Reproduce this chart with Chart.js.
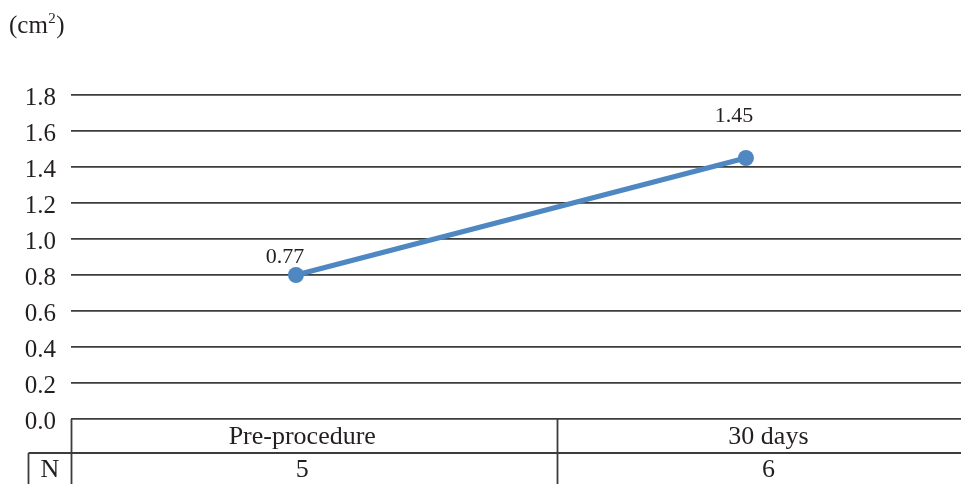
<!DOCTYPE html>
<html>
<head>
<meta charset="utf-8">
<script src="https://cdn.jsdelivr.net/npm/chart.js@4/dist/chart.umd.min.js"></script>
<style>
  html, body { margin: 0; padding: 0; background: #fff; overflow: hidden; }
  canvas { display: block; }
</style>
</head>
<body>
<canvas id="myChart" width="961" height="484"></canvas>
<script>
// data
const categories = ['Pre-procedure', '30 days'];
const plotted = [0.8, 1.45];          // where the markers sit
const valueLabels = ['0.77', '1.45']; // printed next to the markers
const nRow = ['5', '6'];
const yTicks = [0, 0.2, 0.4, 0.6, 0.8, 1.0, 1.2, 1.4, 1.6, 1.8];
const unitParts = ['(cm', '2', ')'];

const SERIF = '"Liberation Serif", "Times New Roman", serif';
const INK = '#231f20';
const BLUE = '#4f87c2';
const GRID = '#3c3c3c';

// value labels, unit text and the data table under the axis
const tablePlugin = {
    id: 'tablePlugin',
    afterDraw(chart) {
        const ctx = chart.ctx;
        const area = chart.chartArea;
        const xs = chart.scales.x;
        const meta = chart.getDatasetMeta(0);

        ctx.save();
        ctx.fillStyle = INK;

        // unit, with a raised 2
        ctx.textAlign = 'left';
        ctx.textBaseline = 'alphabetic';
        let ux = 9;
        ctx.font = '25px ' + SERIF;
        ctx.fillText(unitParts[0], ux, 33);
        ux += ctx.measureText(unitParts[0]).width;
        ctx.font = '15px ' + SERIF;
        ctx.fillText(unitParts[1], ux + 0.5, 23);
        ux += ctx.measureText(unitParts[1]).width + 1;
        ctx.font = '25px ' + SERIF;
        ctx.fillText(unitParts[2], ux, 33);

        // value labels
        const offs = [[-11, -12], [-12, -36]];
        ctx.font = '22px ' + SERIF;
        ctx.textAlign = 'center';
        meta.data.forEach((pt, i) => {
            ctx.fillText(valueLabels[i], pt.x + offs[i][0], pt.y + offs[i][1]);
        });

        // table
        const top = area.bottom;
        const mid = top + 34;
        const bot = chart.height + 2;
        const divX = Math.round(xs.getPixelForValue(0.58)) + 0.5;
        const leftX = area.left + 0.5;
        const nLeft = 28.5;

        ctx.strokeStyle = GRID;
        ctx.lineWidth = 1.8;
        ctx.beginPath();
        ctx.moveTo(leftX, top); ctx.lineTo(leftX, bot);
        ctx.moveTo(divX, top); ctx.lineTo(divX, bot);
        ctx.moveTo(nLeft, mid); ctx.lineTo(area.right, mid);
        ctx.moveTo(nLeft, mid); ctx.lineTo(nLeft, bot);
        ctx.stroke();

        const textX = [xs.getPixelForValue(0.014), xs.getPixelForValue(1.05)];
        ctx.font = '26px ' + SERIF;
        ctx.textBaseline = 'middle';
        categories.forEach((c, i) => ctx.fillText(c, textX[i], top + 18));
        nRow.forEach((n, i) => ctx.fillText(n, textX[i], mid + 17));
        ctx.fillText('N', (nLeft + leftX) / 2, mid + 17);
        ctx.restore();
    }
};

const ctx = document.getElementById('myChart');

new Chart(ctx, {
    type: 'line',
    data: {
        datasets: [{
            label: 'Area',
            data: plotted.map((v, i) => ({ x: i, y: v })),
            borderColor: BLUE,
            backgroundColor: BLUE,
            borderWidth: 5,
            pointRadius: 8,
            pointBorderWidth: 0,
            pointBackgroundColor: BLUE,
            tension: 0,
            fill: false
        }]
    },
    options: {
        responsive: false,
        animation: false,
        layout: { autoPadding: false, padding: { top: 95, bottom: 65, left: 0, right: 0 } },
        plugins: {
            legend: { display: false },
            tooltip: { enabled: false }
        },
        scales: {
            x: {
                type: 'linear',
                display: false,
                min: -0.5,
                max: 1.478
            },
            y: {
                min: 0,
                max: 1.8,
                afterBuildTicks(scale) {
                    scale.ticks = yTicks.map(v => ({ value: v }));
                },
                afterFit(scale) {
                    scale.width = 71;
                },
                border: { display: false },
                grid: {
                    color: GRID,
                    lineWidth: 1.8,
                    drawTicks: false
                },
                ticks: {
                    padding: 15,
                    labelOffset: 3,
                    color: INK,
                    font: { family: SERIF, size: 25 },
                    callback: v => v.toFixed(1)
                }
            }
        }
    },
    plugins: [tablePlugin]
});
</script>
</body>
</html>
